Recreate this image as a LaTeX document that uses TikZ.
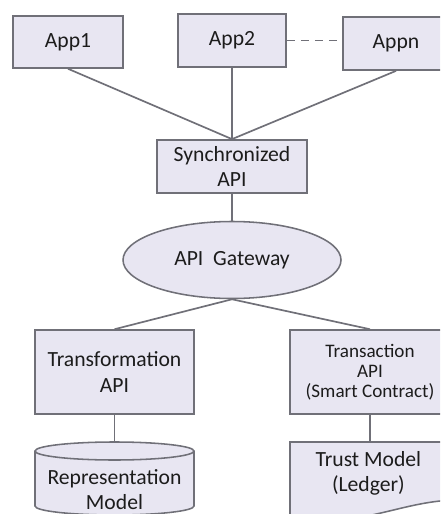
\documentclass[tikz,border=0pt]{standalone}
\usepackage{fontspec}
\setmainfont{Carlito}
\usepackage{xcolor}
\usepackage{tikz}
\usetikzlibrary{shapes.geometric, positioning}

\definecolor{boxfill}{RGB}{232,230,242}
\definecolor{boxline}{RGB}{112,112,120}
\definecolor{txt}{RGB}{28,28,28}

\tikzset{
  fillbox/.style={draw=boxline, fill=boxfill, line width=1.1pt},
  label text/.style={text=txt, align=center, inner sep=0pt, font=\fontsize{15.4}{17.8}\selectfont},
  box/.style={fillbox, label text},
  link/.style={draw=boxline, line width=1.2pt},
}

\begin{document}
\begin{tikzpicture}
\clip (0,0) rectangle (11,-12.85);
% apps on top
\node[box, minimum width=2.75cm, minimum height=1.3cm] (app1) at (1.7,-1.05) {App1};
\node[box, minimum width=2.7cm, minimum height=1.325cm] (app2) at (5.8,-1.0125) {App2};
\node[box, minimum width=2.65cm, minimum height=1.325cm] (appn) at (9.9,-1.09) {Appn};
% middle
\node[box, minimum width=3.75cm, minimum height=1.325cm] (sync) at (5.8,-4.16) {Synchronized\\API};
\node[box, ellipse, minimum width=5.45cm, minimum height=1.925cm] (gw) at (5.8,-6.5) {API\ \ Gateway};
\node[box, minimum width=3.975cm, minimum height=2.1cm] (trf) at (2.8625,-9.3) {Transformation\\API};
\node[box, minimum width=4cm, minimum height=2.1cm, font=\fontsize{13.6}{14.2}\selectfont] (trx) at (9.25,-9.3) {Transaction\\API\\(Smart Contract)};

% database cylinder
\draw[fillbox] (0.875,-11.275) -- (0.875,-12.65)
  arc[start angle=180, end angle=360, x radius=1.9875, y radius=0.225]
  -- (4.85,-11.275)
  arc[start angle=0, end angle=180, x radius=1.9875, y radius=0.225] -- cycle;
\draw[fillbox] (0.875,-11.275) arc[start angle=180, end angle=360, x radius=1.9875, y radius=0.225];
\node[label text] (repr) at (2.8625,-12.25) {Representation\\Model};
\coordinate (reprtop) at (2.8625,-11.05);

% ledger document
\draw[fillbox] (7.25,-11.05) -- (11.3,-11.05) -- (11.3,-12.5)
  .. controls (10.4,-12.55) and (9.8,-12.8) .. (8.9,-12.95)
  .. controls (8.2,-13.1) and (7.6,-13.0) .. (7.25,-12.9) -- cycle;
\node[label text] (ledger) at (9.21,-11.84) {Trust Model\\(Ledger)};
\coordinate (ledgertop) at (9.25,-11.05);

% connections
\draw[link] (app1.south) -- (sync.north);
\draw[link] (app2.south) -- (sync.north);
\draw[link] (appn.south) -- (sync.north);
\draw[link, dash pattern=on 6pt off 4pt] (app2.east) -- (app2.east -| appn.west);
\draw[link] (sync.south) -- (gw.north);
\draw[link] (gw.south) -- (trf.north);
\draw[link] (gw.south) -- (trx.north);
\draw[link] (trf.south) -- (reprtop);
\draw[link] (trx.south) -- (ledgertop);
\end{tikzpicture}
\end{document}
